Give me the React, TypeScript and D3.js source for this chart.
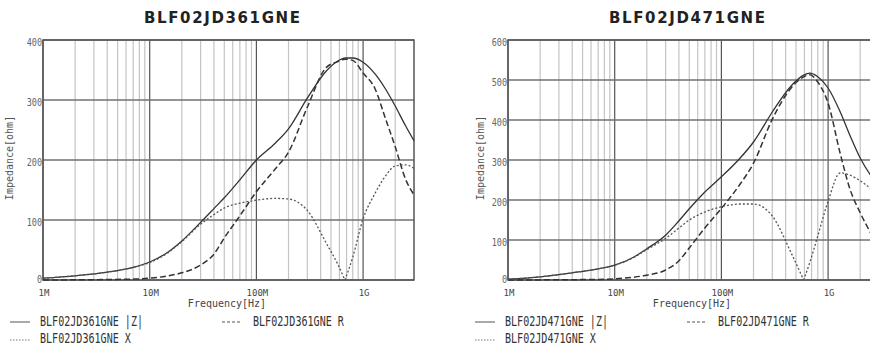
import React from "react";
import * as d3 from "d3";

// ---------- data ----------
const FREQ_361 = [1e6, 2e6, 4e6, 7e6, 1e7, 1.5e7, 2e7, 3e7, 4e7, 5e7, 7e7, 1e8, 1.5e8, 2e8, 3e8, 4.5e8, 5.8e8, 6.76e8, 8e8, 1e9, 1.3e9, 1.6e9, 2e9, 2.5e9, 3e9];
const Z_361 = [3, 7, 13, 21, 30, 47, 65, 96, 119, 137, 167, 200, 228, 252, 303, 348, 365, 370, 370, 363, 343, 320, 290, 257, 232];
const R_361 = [0, 0.3, 0.8, 1.5, 3, 7, 12, 25, 43, 70, 107, 147, 185, 213, 288, 354, 364, 368, 366, 345, 318, 272, 222, 168, 142];
const X_361 = [3, 7, 13, 21, 29, 46, 64, 93, 109, 120, 128, 133, 136, 135, 116, 62, 26, 0, 38, 102, 145, 172, 190, 192, 186];

const FREQ_471 = [1e6, 2e6, 4e6, 7e6, 1e7, 1.5e7, 2e7, 3e7, 4e7, 5e7, 7e7, 1e8, 1.5e8, 2e8, 3e8, 4.5e8, 5.9e8, 6.76e8, 8e8, 1e9, 1.3e9, 1.6e9, 2e9, 2.5e9, 3e9];
const Z_471 = [2, 8, 18, 28, 37, 57, 78, 112, 148, 178, 220, 258, 305, 345, 420, 485, 512, 517, 508, 480, 420, 362, 305, 262, 235];
const R_471 = [0, 0.3, 0.8, 1.5, 3, 7, 12, 25, 48, 80, 130, 179, 240, 292, 402, 480, 508, 513, 495, 442, 316, 228, 168, 118, 80];
const X_471 = [2, 8, 18, 28, 37, 56, 76, 104, 130, 150, 170, 183, 190, 190, 160, 68, 0, 45, 110, 197, 268, 262, 248, 228, 205];

const X_TICK_VALUES = [1e6, 1e7, 1e8, 1e9];
const X_TICK_LABELS = ["1M", "10M", "100M", "1G"];
const Y_TICKS_361 = [0, 100, 200, 300, 400];
const Y_TICKS_471 = [0, 100, 200, 300, 400, 500, 600];

const TITLES = ["BLF02JD361GNE", "BLF02JD471GNE"];
const LEGEND_SUFFIX = [" |Z|", " R", " X"];

// ---------- helpers ----------
const MONO = "'DejaVu Sans Mono', monospace";
const INK = "#333";

function SText(props: {
  x: number; y: number; sx?: number; size: number; anchor?: string; fill?: string; children: React.ReactNode; rotate?: number;
}) {
  const { x, y, sx = 1, size, anchor = "start", fill = INK, rotate = 0 } = props;
  return (
    <g transform={`translate(${x},${y}) rotate(${rotate}) scale(${sx},1)`}>
      <text x={0} y={0} fontFamily={MONO} fontSize={size} textAnchor={anchor} fill={fill}>
        {props.children}
      </text>
    </g>
  );
}

type ChartProps = {
  dx: number;
  title: string;
  freqs: number[];
  z: number[];
  r: number[];
  xv: number[];
  yTicks: number[];
  yLabelX: number;
};

function Chart({ dx, title, freqs, z, r, xv, yTicks, yLabelX }: ChartProps) {
  const left = 43 + dx;
  const right = 414 + dx;
  const top = 40;
  const bottom = 280;
  const yMax = yTicks[yTicks.length - 1];
  const xs = d3.scaleLog().domain([1e6, 3e9]).range([left, right]);
  const ys = d3.scaleLinear().domain([0, yMax]).range([bottom, top]);

  const line = d3
    .line<[number, number]>()
    .x((d) => xs(d[0]))
    .y((d) => ys(d[1]))
    .curve(d3.curveMonotoneX);

  const pts = (vals: number[]) => freqs.map((f, i) => [f, vals[i]] as [number, number]);
  const zPts = pts(z);
  const rPts = pts(r);
  const xPts = pts(xv);
  const minIdx = xv.indexOf(Math.min(...xv.slice(5)));
  const xPath = (line(xPts.slice(0, minIdx + 1)) || "") + (line(xPts.slice(minIdx)) || "");

  const minor: number[] = [];
  for (let dec = 1e6; dec < 3e9; dec *= 10) {
    for (let k = 2; k <= 9; k++) {
      const f = k * dec;
      if (f < 3e9) minor.push(f);
    }
  }

  return (
    <g>
      <text
        x={222 + dx}
        y={22.7}
        fontFamily="'DejaVu Sans', sans-serif"
        fontWeight="bold"
        fontSize={15}
        textAnchor="middle"
        textLength={156}
        lengthAdjust="spacing"
        fill="#222"
      >
        {title}
      </text>

      {/* minor grid */}
      {minor.map((f) => (
        <line key={"m" + f} x1={xs(f)} x2={xs(f)} y1={top} y2={bottom} stroke="#c4c4c4" strokeWidth={1.2} />
      ))}
      {/* decade lines */}
      {X_TICK_VALUES.map((f) => (
        <line key={"d" + f} x1={xs(f)} x2={xs(f)} y1={top} y2={bottom} stroke="#555" strokeWidth={1.2} />
      ))}
      {/* horizontal lines */}
      {yTicks.map((v) => (
        <line key={"h" + v} x1={left} x2={right} y1={ys(v)} y2={ys(v)} stroke="#707070" strokeWidth={1.4} />
      ))}
      <rect x={left} y={top} width={right - left} height={bottom - top} fill="none" stroke="#555" strokeWidth={1.5} />

      {/* y tick labels */}
      {yTicks.map((v) => (
        <SText key={"yl" + v} x={left - 1} y={ys(v) + (v === 0 ? 3 : 5.5)} sx={0.85} size={10} anchor="end" fill="#666">
          {v}
        </SText>
      ))}
      {/* x tick labels */}
      {X_TICK_VALUES.map((f, i) => (
        <SText key={"xl" + f} x={xs(f) + 1} y={295.5} sx={0.95} size={9.5} anchor="middle" fill="#444">
          {X_TICK_LABELS[i]}
        </SText>
      ))}
      <SText x={227 + dx} y={306.5} size={10} anchor="middle" fill="#444">
        Frequency[Hz]
      </SText>
      <SText x={yLabelX} y={158} size={10} anchor="middle" fill="#555" rotate={-90}>
        Impedance[ohm]
      </SText>

      {/* curves */}
      <path d={line(zPts) || ""} fill="none" stroke={INK} strokeWidth={1.3} />
      <path d={line(rPts) || ""} fill="none" stroke={INK} strokeWidth={1.5} strokeDasharray="6,3" />
      <path d={xPath} fill="none" stroke="#555" strokeWidth={1.3} strokeDasharray="2,2" />

      {/* legend */}
      <line x1={10 + dx} x2={30 + dx} y1={322} y2={322} stroke="#555" strokeWidth={1} />
      <SText x={40 + dx} y={325.7} sx={0.735} size={13.7}>
        {title + LEGEND_SUFFIX[0]}
      </SText>
      <line x1={222 + dx} x2={240 + dx} y1={322} y2={322} stroke="#555" strokeWidth={1} strokeDasharray="3,2" />
      <SText x={253 + dx} y={325.7} sx={0.735} size={13.7}>
        {title + LEGEND_SUFFIX[1]}
      </SText>
      <line x1={10 + dx} x2={30 + dx} y1={340} y2={340} stroke="#777" strokeWidth={1} strokeDasharray="1.5,1.5" />
      <SText x={40 + dx} y={343} sx={0.735} size={13.7}>
        {title + LEGEND_SUFFIX[2]}
      </SText>
    </g>
  );
}

export default function App() {
  return (
    <svg
      width={870}
      height={347}
      style={{ position: "absolute", left: 0, top: 0, background: "#fff" }}
    >
      <rect x={0} y={0} width={870} height={347} fill="#fff" />
      <Chart dx={0} title={TITLES[0]} freqs={FREQ_361} z={Z_361} r={R_361} xv={X_361} yTicks={Y_TICKS_361} yLabelX={13} />
      <Chart dx={465} title={TITLES[1]} freqs={FREQ_471} z={Z_471} r={R_471} xv={X_471} yTicks={Y_TICKS_471} yLabelX={484} />
    </svg>
  );
}
